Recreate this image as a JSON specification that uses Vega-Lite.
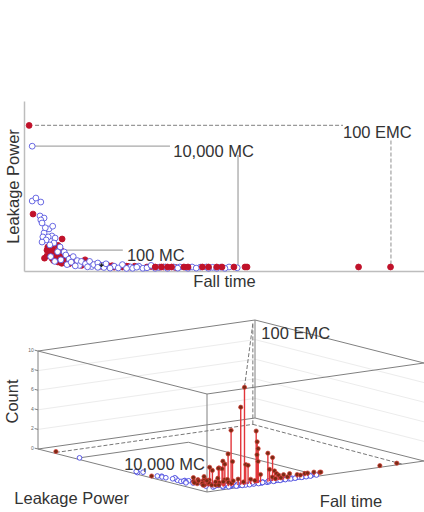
{"$schema":"https://vega.github.io/schema/vega-lite/v6.json","padding":{"left":4,"top":101,"right":0,"bottom":0},"bounds":"flush","spacing":43,"config":{"view":{"stroke":null},"font":"Liberation Sans"},
"datasets":{
"pts":[
{"fall":9.3,"leak":20,"count":0.3,"type":"EMC"},{"fall":2.2,"leak":35.6,"count":0,"type":"EMC"},{"fall":1.25,"leak":91,"count":0.1,"type":"EMC"},{"fall":6.3,"leak":16,"count":0.2,"type":"EMC"},{"fall":8.3,"leak":16,"count":0.3,"type":"EMC"},{"fall":5.6,"leak":13,"count":0.1,"type":"EMC"},{"fall":5,"leak":8,"count":0.2,"type":"EMC"},{"fall":7.6,"leak":12,"count":0.4,"type":"EMC"},{"fall":8.8,"leak":10,"count":0.5,"type":"EMC"},{"fall":6.8,"leak":8,"count":0.3,"type":"EMC"},{"fall":8.3,"leak":5.6,"count":0.2,"type":"EMC"},{"fall":10,"leak":5.6,"count":0.4,"type":"EMC"},{"fall":11.2,"leak":8,"count":0.7,"type":"EMC"},{"fall":12.4,"leak":5.6,"count":0.6,"type":"EMC"},{"fall":14.9,"leak":7,"count":0.5,"type":"EMC"},{"fall":17.3,"leak":3.8,"count":0.6,"type":"EMC"},{"fall":5.8,"leak":15,"count":0.1,"type":"EMC"},{"fall":6.4,"leak":11,"count":0.2,"type":"EMC"},{"fall":7,"leak":14,"count":0.3,"type":"EMC"},{"fall":7.9,"leak":9,"count":0.3,"type":"EMC"},{"fall":5.6,"leak":9.5,"count":0.1,"type":"EMC"},{"fall":7.2,"leak":6.5,"count":0.2,"type":"EMC"},{"fall":9,"leak":13,"count":0.5,"type":"EMC"},{"fall":9.8,"leak":7.5,"count":0.4,"type":"EMC"},{"fall":9.2,"leak":4.8,"count":0.2,"type":"EMC"},{"fall":11,"leak":4.5,"count":0.5,"type":"EMC"},{"fall":13,"leak":4,"count":0.4,"type":"EMC"},{"fall":14,"leak":3.5,"count":0.3,"type":"EMC"},{"fall":16,"leak":5,"count":0.4,"type":"EMC"},{"fall":19,"leak":2.8,"count":0.3,"type":"EMC"},{"fall":22,"leak":2.4,"count":0.5,"type":"EMC"},{"fall":24,"leak":2.5,"count":0.3,"type":"EMC"},
{"fall":20,"leak":3.5,"count":9.9,"type":"EMC"},{"fall":18.5,"leak":3.8,"count":7.9,"type":"EMC"},{"fall":15,"leak":5,"count":5.6,"type":"EMC"},{"fall":25,"leak":3,"count":5.3,"type":"EMC"},{"fall":25.3,"leak":2.8,"count":4.2,"type":"EMC"},{"fall":25.6,"leak":2.6,"count":3.5,"type":"EMC"},{"fall":25,"leak":2.5,"count":2.9,"type":"EMC"},{"fall":25.4,"leak":2.4,"count":2.2,"type":"EMC"},{"fall":14,"leak":5.5,"count":3.2,"type":"EMC"},{"fall":30,"leak":2.5,"count":2.9,"type":"EMC"},{"fall":32,"leak":2.3,"count":2.4,"type":"EMC"},{"fall":12,"leak":6,"count":2.5,"type":"EMC"},{"fall":12.5,"leak":5.5,"count":2.2,"type":"EMC"},{"fall":15.5,"leak":4.8,"count":2.4,"type":"EMC"},{"fall":11,"leak":7,"count":1.8,"type":"EMC"},{"fall":12,"leak":6.5,"count":1.7,"type":"EMC"},{"fall":20.5,"leak":3.4,"count":2,"type":"EMC"},{"fall":21.5,"leak":3.3,"count":1.9,"type":"EMC"},{"fall":9,"leak":10,"count":1.8,"type":"EMC"},{"fall":9.5,"leak":9,"count":1.5,"type":"EMC"},{"fall":8,"leak":12,"count":0.8,"type":"EMC"},{"fall":8.5,"leak":11,"count":0.4,"type":"EMC"},{"fall":11.5,"leak":8,"count":1.7,"type":"EMC"},{"fall":27,"leak":3,"count":0.8,"type":"EMC"},{"fall":31,"leak":2.8,"count":1.2,"type":"EMC"},{"fall":33,"leak":2.4,"count":1,"type":"EMC"},{"fall":34,"leak":2.5,"count":0.7,"type":"EMC"},{"fall":37,"leak":2.2,"count":0.5,"type":"EMC"},
{"fall":2,"leak":78,"count":0,"type":"MC"},{"fall":2,"leak":43.75,"count":0,"type":"MC"},{"fall":2.9,"leak":45.6,"count":0,"type":"MC"},{"fall":4.1,"leak":43.1,"count":0,"type":"MC"},{"fall":3.9,"leak":34.4,"count":0,"type":"MC"},{"fall":4.9,"leak":33.1,"count":0,"type":"MC"},{"fall":4.1,"leak":31.9,"count":0,"type":"MC"},{"fall":4.4,"leak":30,"count":0,"type":"MC"},{"fall":6.1,"leak":26.3,"count":0,"type":"MC"},{"fall":4.9,"leak":23.8,"count":0,"type":"MC"},{"fall":6.8,"leak":21.9,"count":0,"type":"MC"},{"fall":4.6,"leak":21.3,"count":0,"type":"MC"},{"fall":5.9,"leak":21.3,"count":0,"type":"MC"},{"fall":7.6,"leak":20.6,"count":0,"type":"MC"},{"fall":5.4,"leak":19.4,"count":0,"type":"MC"},{"fall":4.4,"leak":18.1,"count":0,"type":"MC"},{"fall":7.3,"leak":17.5,"count":0,"type":"MC"},{"fall":6.3,"leak":16.3,"count":0,"type":"MC"},{"fall":8.8,"leak":15,"count":0,"type":"MC"},{"fall":9.8,"leak":11.9,"count":0,"type":"MC"},{"fall":10.2,"leak":10,"count":0,"type":"MC"},{"fall":6.5,"leak":9,"count":0,"type":"MC"},{"fall":7.5,"leak":6,"count":0,"type":"MC"},{"fall":9,"leak":7,"count":0,"type":"MC"},{"fall":11,"leak":7.5,"count":0,"type":"MC"},{"fall":10.5,"leak":4,"count":0,"type":"MC"},{"fall":12,"leak":9,"count":0,"type":"MC"},{"fall":13,"leak":6.5,"count":0,"type":"MC"},{"fall":13.5,"leak":3.5,"count":0,"type":"MC"},{"fall":14,"leak":6,"count":0,"type":"MC"},{"fall":15,"leak":4.5,"count":0,"type":"MC"},{"fall":16,"leak":6,"count":0,"type":"MC"},{"fall":16.5,"leak":2.8,"count":0,"type":"MC"},{"fall":17,"leak":4,"count":0,"type":"MC"},{"fall":18,"leak":5,"count":0,"type":"MC"},{"fall":19,"leak":3.5,"count":0,"type":"MC"},{"fall":19.5,"leak":2.2,"count":0,"type":"MC"},{"fall":20,"leak":4.5,"count":0,"type":"MC"},{"fall":22,"leak":3,"count":0,"type":"MC"},{"fall":23,"leak":1.9,"count":0,"type":"MC"},{"fall":24,"leak":4,"count":0,"type":"MC"},{"fall":26,"leak":2.5,"count":0,"type":"MC"},{"fall":26.5,"leak":1.7,"count":0,"type":"MC"},{"fall":28,"leak":3,"count":0,"type":"MC"},{"fall":29,"leak":1.7,"count":0,"type":"MC"},{"fall":30,"leak":2,"count":0,"type":"MC"},{"fall":31,"leak":3.5,"count":0,"type":"MC"},{"fall":33,"leak":2.2,"count":0,"type":"MC"},{"fall":34.5,"leak":2.5,"count":0,"type":"MC"},{"fall":36.5,"leak":2.5,"count":0,"type":"MC"},{"fall":38,"leak":2.5,"count":0,"type":"MC"},{"fall":39.5,"leak":2.3,"count":0,"type":"MC"},{"fall":41,"leak":2.5,"count":0,"type":"MC"},{"fall":43,"leak":2.4,"count":0,"type":"MC"},{"fall":44.5,"leak":2.5,"count":0,"type":"MC"},{"fall":46,"leak":2.3,"count":0,"type":"MC"},{"fall":48,"leak":2.4,"count":0,"type":"MC"},{"fall":50,"leak":2.5,"count":0,"type":"MC"},{"fall":52,"leak":2,"count":0,"type":"MC"},{"fall":7,"leak":28,"count":0,"type":"MC"},{"fall":5.2,"leak":27,"count":0,"type":"MC"},{"fall":8.2,"leak":12,"count":0,"type":"MC"},{"fall":11.5,"leak":5.5,"count":0,"type":"MC"},{"fall":12.5,"leak":3.2,"count":0,"type":"MC"},{"fall":15.5,"leak":2.6,"count":0,"type":"MC"},{"fall":18,"leak":2.3,"count":0,"type":"MC"},{"fall":21,"leak":1.8,"count":0,"type":"MC"},{"fall":25,"leak":1.6,"count":0,"type":"MC"},{"fall":27.5,"leak":2.4,"count":0,"type":"MC"},{"fall":32,"leak":1.7,"count":0,"type":"MC"},{"fall":35,"leak":1.7,"count":0,"type":"MC"},{"fall":37.5,"leak":1.8,"count":0,"type":"MC"},{"fall":40,"leak":1.7,"count":0,"type":"MC"},{"fall":42,"leak":1.8,"count":0,"type":"MC"},{"fall":45,"leak":1.7,"count":0,"type":"MC"},{"fall":47,"leak":1.7,"count":0,"type":"MC"},{"fall":49,"leak":1.7,"count":0,"type":"MC"},
{"fall":32,"leak":2.5,"count":0.4,"type":"EMC"},{"fall":33.5,"leak":2.5,"count":0.2,"type":"EMC"},{"fall":35,"leak":2.5,"count":0.5,"type":"EMC"},{"fall":36,"leak":2.5,"count":0.2,"type":"EMC"},{"fall":39,"leak":2.5,"count":0.2,"type":"EMC"},{"fall":40,"leak":2.5,"count":0.5,"type":"EMC"},{"fall":43.5,"leak":2.5,"count":0.3,"type":"EMC"},{"fall":45,"leak":2.5,"count":0.2,"type":"EMC"},{"fall":47,"leak":2.5,"count":0.3,"type":"EMC"},{"fall":48.3,"leak":2.5,"count":0.3,"type":"EMC"},{"fall":51.2,"leak":2.5,"count":0.3,"type":"EMC"},{"fall":53.9,"leak":2.5,"count":0.2,"type":"EMC"},{"fall":54.4,"leak":2.5,"count":0.2,"type":"EMC"},{"fall":81.6,"leak":2.5,"count":0,"type":"EMC"},{"fall":89.4,"leak":2.5,"count":0,"type":"EMC"}
],
"plus":[{"fall":18.9,"leak":3.6}],
"topLines":[
{"fall":2.7,"fall2":35.6,"leak":78,"leak2":78,"style":"solid"},{"fall":52.2,"fall2":52.2,"leak":2,"leak2":72.5,"style":"solid"},{"fall":10,"fall2":24.1,"leak":13,"leak2":13,"style":"solid"},
{"fall":2.7,"fall2":77.8,"leak":91,"leak2":91,"style":"dashed"},{"fall":89.5,"fall2":89.5,"leak":4,"leak2":82,"style":"dashed"}],
"topLabels":[{"fall":36.4,"leak":74.4,"text":"10,000 MC"},{"fall":25.1,"leak":9.4,"text":"100 MC"},{"fall":77.8,"leak":86.3,"text":"100 EMC"}],
"box":[
{"f":0,"l":100,"c":0,"f2":0,"l2":0,"c2":0},{"f":0,"l":0,"c":0,"f2":100,"l2":0,"c2":0},{"f":0,"l":100,"c":0,"f2":100,"l2":100,"c2":0},{"f":100,"l":100,"c":0,"f2":100,"l2":0,"c2":0},
{"f":0,"l":100,"c":10,"f2":0,"l2":0,"c2":10},{"f":0,"l":0,"c":10,"f2":100,"l2":0,"c2":10},{"f":0,"l":100,"c":10,"f2":100,"l2":100,"c2":10},{"f":100,"l":100,"c":10,"f2":100,"l2":0,"c2":10},
{"f":0,"l":100,"c":0,"f2":0,"l2":100,"c2":10},{"f":0,"l":0,"c":0,"f2":0,"l2":0,"c2":10},{"f":100,"l":100,"c":0,"f2":100,"l2":100,"c2":10},
{"f":0,"l":100,"c":0,"f2":0,"l2":102,"c2":0},{"f":0,"l":100,"c":2,"f2":0,"l2":102,"c2":2},{"f":0,"l":100,"c":4,"f2":0,"l2":102,"c2":4},{"f":0,"l":100,"c":6,"f2":0,"l2":102,"c2":6},{"f":0,"l":100,"c":8,"f2":0,"l2":102,"c2":8},{"f":0,"l":100,"c":10,"f2":0,"l2":102,"c2":10}],
"grid":[
{"f":0,"l":100,"c":2,"f2":100,"l2":100,"c2":2},{"f":0,"l":100,"c":4,"f2":100,"l2":100,"c2":4},{"f":0,"l":100,"c":6,"f2":100,"l2":100,"c2":6},{"f":0,"l":100,"c":8,"f2":100,"l2":100,"c2":8},
{"f":100,"l":100,"c":2,"f2":100,"l2":0,"c2":2},{"f":100,"l":100,"c":4,"f2":100,"l2":0,"c2":4},{"f":100,"l":100,"c":6,"f2":100,"l2":0,"c2":6},{"f":100,"l":100,"c":8,"f2":100,"l2":0,"c2":8}],
"solid3d":[{"f":2,"l":78,"c":0,"f2":52.2,"l2":78,"c2":0},{"f":52.2,"l":78,"c":0,"f2":52.2,"l2":2,"c2":0}],
"dash3d":[{"f":1.25,"l":91,"c":0,"f2":92,"l2":91,"c2":0},{"f":92,"l":91,"c":0,"f2":90,"l2":0,"c2":0},{"f":92,"l":91,"c":0,"f2":92,"l2":91,"c2":10.3},{"f":92,"l":91,"c":10.3,"f2":20,"l2":3.5,"c2":9.9}],
"labels3d":[
{"f":92,"l":86,"c":9.4,"text":"100 EMC"},{"f":2,"l":51.6,"c":0.4,"text":"10,000 MC"},
{"f":0,"l":114,"c":-5.7,"text":"Leakage Power"},{"f":52,"l":0,"c":-2.65,"text":"Fall time"}],
"ticks3d":[{"f":0,"l":102.5,"c":0,"text":"0"},{"f":0,"l":102.5,"c":2,"text":"2"},{"f":0,"l":102.5,"c":4,"text":"4"},{"f":0,"l":102.5,"c":6,"text":"6"},{"f":0,"l":102.5,"c":8,"text":"8"},{"f":0,"l":102.5,"c":10,"text":"10"}],
"countTitle":[{"f":0,"l":114.8,"c":4.2,"text":"Count"}]
},
"vconcat":[
{"width":400,"height":170,"layer":[
{"data":{"name":"topLines"},"transform":[{"filter":"datum.style=='solid'"}],"mark":{"type":"rule","color":"#a8a8a8","strokeWidth":1.3},"encoding":{"x":{"field":"fall","type":"quantitative","scale":{"domain":[0,97.56],"nice":false},"axis":{"title":"Fall time","labels":false,"ticks":false,"grid":false,"domainColor":"#bdbdbd","domainWidth":1.5,"titleFontSize":16.5,"titleFontWeight":"normal","titleColor":"#333","titlePadding":2}},"x2":{"field":"fall2"},"y":{"field":"leak","type":"quantitative","scale":{"domain":[0,106.25],"nice":false},"axis":{"title":"Leakage Power","labels":false,"ticks":false,"grid":false,"domainColor":"#bdbdbd","domainWidth":1.5,"titleFontSize":16.5,"titleFontWeight":"normal","titleColor":"#333","titlePadding":3}},"y2":{"field":"leak2"}}},
{"data":{"name":"topLines"},"transform":[{"filter":"datum.style=='dashed'"}],"mark":{"type":"rule","color":"#999","strokeWidth":1.1,"strokeDash":[4,2]},"encoding":{"x":{"field":"fall","type":"quantitative"},"x2":{"field":"fall2"},"y":{"field":"leak","type":"quantitative"},"y2":{"field":"leak2"}}},
{"data":{"name":"pts"},"mark":{"type":"point","filled":false,"opacity":1,"strokeWidth":0.9,"size":34},"encoding":{"x":{"field":"fall","type":"quantitative"},"y":{"field":"leak","type":"quantitative"},"fill":{"field":"type","type":"nominal","scale":{"domain":["EMC","MC"],"range":["#c0122a","#ffffff"]},"legend":null},"stroke":{"field":"type","type":"nominal","scale":{"domain":["EMC","MC"],"range":["#c0122a","#5a5ae0"]},"legend":null}}},
{"data":{"name":"plus"},"mark":{"type":"point","shape":"cross","filled":true,"fill":"#222","stroke":null,"opacity":1,"size":14},"encoding":{"x":{"field":"fall","type":"quantitative"},"y":{"field":"leak","type":"quantitative"}}},
{"data":{"name":"topLabels"},"mark":{"type":"text","align":"left","baseline":"middle","fontSize":16.5,"color":"#333"},"encoding":{"x":{"field":"fall","type":"quantitative"},"y":{"field":"leak","type":"quantitative"},"text":{"field":"text"}}}
]},
{"width":400,"height":197,"layer":[
{"data":{"name":"grid"},"transform":[{"calculate":"207+2.17*datum.f-1.69*datum.l","as":"px"},{"calculate":"493-0.31*datum.f-0.43*datum.l-9.8*datum.c","as":"py"},{"calculate":"207+2.17*datum.f2-1.69*datum.l2","as":"px2"},{"calculate":"493-0.31*datum.f2-0.43*datum.l2-9.8*datum.c2","as":"py2"}],"mark":{"type":"rule","color":"#ececec","strokeWidth":1},"encoding":{"x":{"field":"px","type":"quantitative","scale":{"domain":[24,424],"nice":false,"zero":false},"axis":null},"x2":{"field":"px2"},"y":{"field":"py","type":"quantitative","scale":{"domain":[512,315],"nice":false,"zero":false},"axis":null},"y2":{"field":"py2"}}},
{"data":{"name":"box"},"transform":[{"calculate":"207+2.17*datum.f-1.69*datum.l","as":"px"},{"calculate":"493-0.31*datum.f-0.43*datum.l-9.8*datum.c","as":"py"},{"calculate":"207+2.17*datum.f2-1.69*datum.l2","as":"px2"},{"calculate":"493-0.31*datum.f2-0.43*datum.l2-9.8*datum.c2","as":"py2"}],"mark":{"type":"rule","color":"#808080","strokeWidth":1},"encoding":{"x":{"field":"px","type":"quantitative"},"x2":{"field":"px2"},"y":{"field":"py","type":"quantitative"},"y2":{"field":"py2"}}},
{"data":{"name":"solid3d"},"transform":[{"calculate":"207+2.17*datum.f-1.69*datum.l","as":"px"},{"calculate":"493-0.31*datum.f-0.43*datum.l-9.8*datum.c","as":"py"},{"calculate":"207+2.17*datum.f2-1.69*datum.l2","as":"px2"},{"calculate":"493-0.31*datum.f2-0.43*datum.l2-9.8*datum.c2","as":"py2"}],"mark":{"type":"rule","color":"#808080","strokeWidth":1},"encoding":{"x":{"field":"px","type":"quantitative"},"x2":{"field":"px2"},"y":{"field":"py","type":"quantitative"},"y2":{"field":"py2"}}},
{"data":{"name":"dash3d"},"transform":[{"calculate":"207+2.17*datum.f-1.69*datum.l","as":"px"},{"calculate":"493-0.31*datum.f-0.43*datum.l-9.8*datum.c","as":"py"},{"calculate":"207+2.17*datum.f2-1.69*datum.l2","as":"px2"},{"calculate":"493-0.31*datum.f2-0.43*datum.l2-9.8*datum.c2","as":"py2"}],"mark":{"type":"rule","color":"#777","strokeWidth":1,"strokeDash":[4,2]},"encoding":{"x":{"field":"px","type":"quantitative"},"x2":{"field":"px2"},"y":{"field":"py","type":"quantitative"},"y2":{"field":"py2"}}},
{"data":{"name":"pts"},"transform":[{"filter":"datum.type=='MC'"},{"calculate":"207+2.17*datum.fall-1.69*datum.leak","as":"px"},{"calculate":"493-0.31*datum.fall-0.43*datum.leak","as":"py"}],"mark":{"type":"point","filled":false,"fill":"#ffffff","stroke":"#4a4ae0","strokeWidth":0.9,"opacity":1,"size":22},"encoding":{"x":{"field":"px","type":"quantitative"},"y":{"field":"py","type":"quantitative"}}},
{"data":{"name":"pts"},"transform":[{"filter":"datum.type=='EMC'"},{"calculate":"207+2.17*datum.fall-1.69*datum.leak","as":"px"},{"calculate":"493-0.31*datum.fall-0.43*datum.leak","as":"py0"},{"calculate":"datum.py0-9.8*datum.count","as":"py"}],"mark":{"type":"rule","color":"#e2353a","strokeWidth":1.4},"encoding":{"x":{"field":"px","type":"quantitative"},"y":{"field":"py","type":"quantitative"},"y2":{"field":"py0"}}},
{"data":{"name":"pts"},"transform":[{"filter":"datum.type=='EMC'"},{"calculate":"207+2.17*datum.fall-1.69*datum.leak","as":"px"},{"calculate":"493-0.31*datum.fall-0.43*datum.leak-9.8*datum.count","as":"py"}],"mark":{"type":"point","filled":true,"fill":"#7a2a14","stroke":"#d9403a","strokeWidth":0.7,"opacity":1,"size":18},"encoding":{"x":{"field":"px","type":"quantitative"},"y":{"field":"py","type":"quantitative"}}},
{"data":{"name":"labels3d"},"transform":[{"calculate":"207+2.17*datum.f-1.69*datum.l","as":"px"},{"calculate":"493-0.31*datum.f-0.43*datum.l-9.8*datum.c","as":"py"}],"mark":{"type":"text","align":"left","baseline":"middle","fontSize":16.5,"color":"#333"},"encoding":{"x":{"field":"px","type":"quantitative"},"y":{"field":"py","type":"quantitative"},"text":{"field":"text"}}},
{"data":{"name":"ticks3d"},"transform":[{"calculate":"207+2.17*datum.f-1.69*datum.l","as":"px"},{"calculate":"493-0.31*datum.f-0.43*datum.l-9.8*datum.c","as":"py"}],"mark":{"type":"text","align":"right","baseline":"middle","fontSize":5,"color":"#666"},"encoding":{"x":{"field":"px","type":"quantitative"},"y":{"field":"py","type":"quantitative"},"text":{"field":"text"}}},
{"data":{"name":"countTitle"},"transform":[{"calculate":"207+2.17*datum.f-1.69*datum.l","as":"px"},{"calculate":"493-0.31*datum.f-0.43*datum.l-9.8*datum.c","as":"py"}],"mark":{"type":"text","align":"center","baseline":"middle","fontSize":16.5,"color":"#333","angle":270},"encoding":{"x":{"field":"px","type":"quantitative"},"y":{"field":"py","type":"quantitative"},"text":{"field":"text"}}}
]}
]}
